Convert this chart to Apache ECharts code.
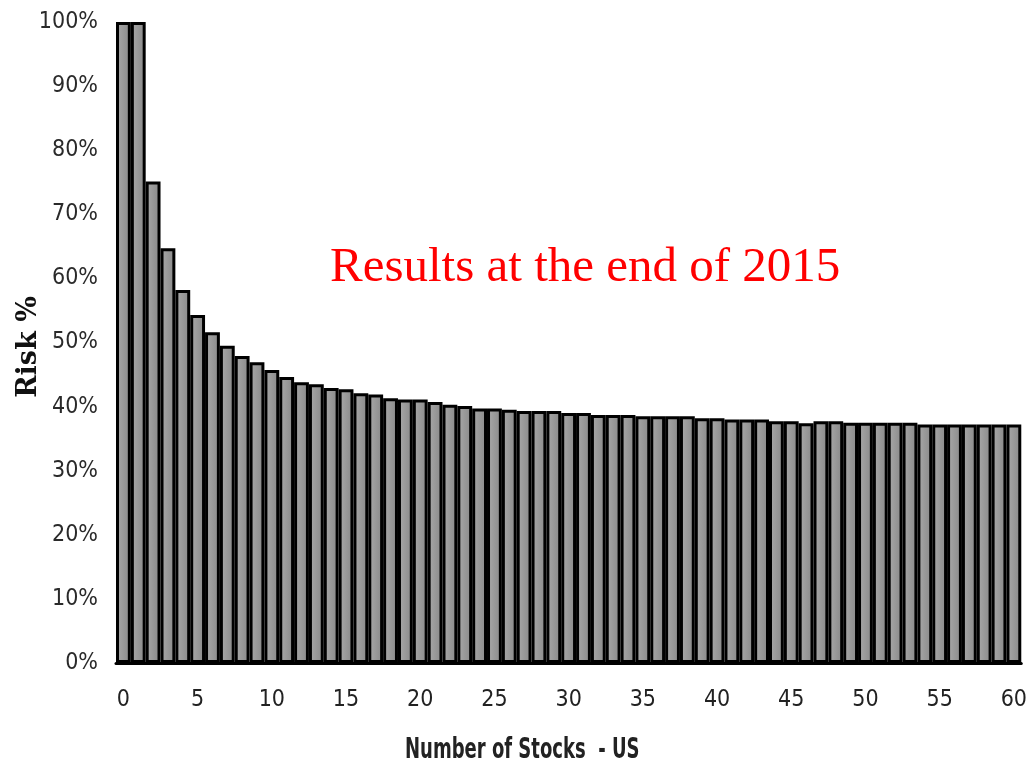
<!DOCTYPE html>
<html>
<head>
<meta charset="utf-8">
<script src="https://cdn.jsdelivr.net/npm/echarts@6/dist/echarts.min.js"></script>
<style>
  html, body { margin: 0; padding: 0; background: #fff; }
  #chart { width: 1030px; height: 768px; }
</style>
</head>
<body>
<div id="chart"></div>
<script>
// Number of stocks held in the portfolio (0..60)
const stockCounts = Array.from({ length: 61 }, (_, i) => String(i));

// Portfolio risk relative to a single stock, in percent
const riskValues = [
  100, 100, 75.1, 64.7, 58.2, 54.3, 51.6, 49.5, 47.9, 46.9,
  45.7, 44.6, 43.8, 43.5, 42.9, 42.7, 42.1, 41.9, 41.3, 41.1,
  41.1, 40.7, 40.3, 40.1, 39.7, 39.7, 39.5, 39.3, 39.3, 39.3,
  39.0, 39.0, 38.7, 38.7, 38.7, 38.5, 38.5, 38.5, 38.5, 38.2,
  38.2, 38.0, 38.0, 38.0, 37.7, 37.7, 37.4, 37.7, 37.7, 37.5,
  37.5, 37.5, 37.5, 37.5, 37.2, 37.2, 37.2, 37.2, 37.2, 37.2,
  37.2
];

const titleText = 'Results at the end of 2015';
const xAxisTitle = 'Number of Stocks  - US';
const yAxisTitle = 'Risk %';

const narrowFont = '"Liberation Sans Narrow", "DejaVu Sans Condensed", "Open Sans", sans-serif';

const chart = echarts.init(document.getElementById('chart'), null, { renderer: 'canvas' });

chart.setOption({
  backgroundColor: '#ffffff',
  animation: false,
  grid: { left: 116, right: 6, top: 22, bottom: 105, containLabel: false },
  xAxis: {
    type: 'category',
    data: stockCounts,
    axisLine: { show: true, lineStyle: { color: '#000', width: 3 } },
    axisTick: { show: false },
    axisLabel: {
      interval: 4,
      margin: 26,
      color: '#222',
      fontFamily: narrowFont,
      fontSize: 23
    }
  },
  yAxis: {
    type: 'value',
    min: 0,
    max: 100,
    interval: 10,
    axisLine: { show: false },
    axisTick: { show: false },
    splitLine: { show: false },
    axisLabel: {
      formatter: '{value}%',
      margin: 18,
      color: '#2a2a2a',
      fontFamily: narrowFont,
      fontSize: 23
    }
  },
  graphic: [
    {
      // chart heading
      type: 'text',
      left: 330,
      top: 244,
      style: {
        text: titleText,
        fill: '#ff0000',
        font: '49px "Liberation Serif", "DejaVu Serif", serif',
        shadowColor: 'rgba(0,0,0,0.4)',
        shadowBlur: 3,
        shadowOffsetX: 2,
        shadowOffsetY: 2
      }
    },
    {
      // x axis title, condensed
      type: 'text',
      x: 405,
      y: 736,
      scaleX: 0.69,
      style: {
        text: xAxisTitle,
        fill: '#222',
        font: 'bold 29px ' + narrowFont
      }
    },
    {
      // y axis title, rotated
      type: 'text',
      x: 29,
      y: 347,
      rotation: Math.PI / 2,
      style: {
        text: yAxisTitle,
        fill: '#111',
        align: 'center',
        verticalAlign: 'middle',
        font: 'bold 27px "DejaVu Serif", "Liberation Serif", serif'
      }
    }
  ],
  series: [{
    type: 'bar',
    data: riskValues,
    barCategoryGap: '0%',
    itemStyle: {
      color: new echarts.graphic.LinearGradient(0, 0, 1, 0, [
        { offset: 0, color: '#aaaaaa' },
        { offset: 1, color: '#888888' }
      ]),
      borderColor: '#000',
      borderWidth: 3
    }
  }]
});
</script>
</body>
</html>
